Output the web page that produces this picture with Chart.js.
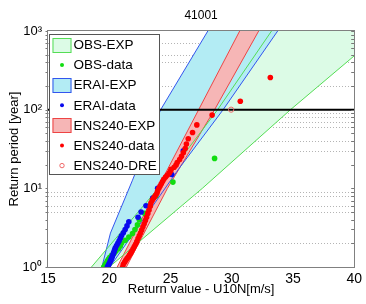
<!DOCTYPE html>
<html><head><meta charset="utf-8">
<script src="https://cdn.jsdelivr.net/npm/chart.js@4/dist/chart.umd.min.js"></script>
<style>html,body{margin:0;padding:0;background:#fff}#wrap{width:366px;height:304px}</style>
</head><body><div id="wrap"><canvas id="c" width="366" height="304"></canvas></div>
<script>
// ---------- data ----------
const chartTitle = '41001';
const xTitle = 'Return value - U10N[m/s]';
const yTitle = 'Return period [year]';
const xTicks = [15, 20, 25, 30, 35, 40];
const yMajorTicks = [1, 10, 100, 1000];
const yTickLabels = ['10\u2070', '10\u00B9', '10\u00B2', '10\u00B3'];
const yMinorTicks = [2,3,4,5,6,7,8,9,20,30,40,50,60,70,80,90,200,300,400,500,600,700,800,900];
const yGridLines = [2,5,6,8,9,30,40,60,70,80,90,200,400,500,700];
const returnLevelLine = [[15, 100], [40, 100]];
const legendLabels = ['OBS-EXP','OBS-data','ERAI-EXP','ERAI-data','ENS240-EXP','ENS240-data','ENS240-DRE'];

// confidence bands [x, return period]
const obsExpLower  = [[18.55,1],[24.0,10],[28.85,100],[33.25,1000]];
const obsExpUpper  = [[20.0,1],[27.6,10],[34.8,100],[42.4,1000]];
const eraiExpLower = [[19.4,1],[20.1,2.7],[21.9,12.7],[24.2,100],[28.05,1000]];
const eraiExpUpper = [[20.05,1],[25.7,17.9],[29.3,100],[33.75,1000]];
const ensExpLower  = [[20.65,1],[23.95,10],[27.3,100],[30.65,1000]];
const ensExpUpper  = [[21.4,1],[24.75,10],[28.6,100],[32.2,1000]];

// empirical points [x, return period]
const obsData = [[28.6,24],[25.2,12],[23.8,8],[23.3,6],[22.9,4.8],[22.45,4],[22.3,3.43],[22.1,3],
  [21.9,2.67],[21.6,2.4],[21.3,2.18],[21.0,2],[20.9,1.85],[20.75,1.71],[20.55,1.6],[20.4,1.5],
  [20.2,1.41],[20.05,1.33],[19.95,1.26],[19.85,1.2],[19.8,1.14],[19.7,1.09],[19.65,1.04],[19.55,1.0]];
const eraiData = [[26.05,30],[25.1,15],[23.95,10],[23.55,7.5],[23.0,6],[22.6,5],[22.35,4.29],[21.6,3.75],
  [21.45,3.33],[21.3,3],[21.15,2.73],[21.0,2.5],[20.9,2.31],[20.8,2.14],[20.7,2],[20.6,1.875],
  [20.5,1.76],[20.45,1.67],[20.4,1.58],[20.35,1.5],[20.3,1.43],[20.25,1.36],[20.2,1.3],[20.15,1.25],
  [20.1,1.2],[20.05,1.15],[20.0,1.11],[19.95,1.07],[19.9,1.03],[19.85,1.0]];
const ensData = [[21.1,1.0],[21.15,1.08],[21.25,1.15],[21.35,1.22],[21.45,1.28],[21.55,1.34],[21.65,1.42],
  [21.75,1.5],[21.85,1.6],[21.95,1.7],[22.05,1.82],[22.15,1.95],[22.25,2.1],[22.35,2.3],[22.45,2.5],
  [22.55,2.7],[22.65,2.95],[22.75,3.25],[22.85,3.55],[22.95,3.9],[23.05,4.3],[23.15,4.8],[23.25,5.3],
  [23.35,5.9],[23.4,6.5],[23.5,7.0],[23.6,7.4],[23.7,7.8],[23.8,8.2],[23.9,8.7],[23.95,9.3],[24.05,10.0],
  [24.15,10.7],[24.25,11.4],[24.35,12.2],[24.45,13.0],[24.6,13.9],[24.75,14.8],[24.9,15.6],[25.0,16.5],
  [25.05,17.4],[25.3,18.5],[25.45,19.7],[25.55,21.3],[25.75,23.3],[25.9,25.6],[26.05,28.4],[26.2,32.0],
  [26.3,36.6],[26.45,42.7],[26.8,51.2],[27.15,64.0],[28.4,85.3],[30.7,128],[33.15,256]];
const ensDre = [[29.95,100]];

// ---------- styles ----------
const FONT = "'Liberation Sans', Arial, Helvetica, sans-serif";
const C = {
  obsFill:'#dcfbe6', obsLine:'#55dd55', obsDot:'#11dd11',
  eraiFill:'#b3ecf4', eraiLine:'#3355ee', eraiDot:'#0a0aee',
  ensFill:'#f6b6b6', ensLine:'#ee4444', ensDot:'#ff0000', dre:'#f06a6a',
  grid:'#b4b4b4', frame:'#808080'
};
Chart.defaults.font.family = FONT;
Chart.defaults.color = '#000';

const toXY = arr => arr.map(p => ({x: p[0], y: p[1]}));
const polygon = (lo, up) => toXY(lo.concat(up.slice().reverse()));

function band(label, lo, up, fillColor, lineColor, order) {
  return [
    {label, data: polygon(lo, up), fill: 'shape', backgroundColor: fillColor, borderColor: lineColor,
     borderWidth: 0, pointRadius: 0, order, clip: 0, kind: 'patch'},
    {label: label + ' lower', data: toXY(lo), fill: false, borderColor: lineColor, borderWidth: 1,
     pointRadius: 0, order: 20, clip: 0},
    {label: label + ' upper', data: toXY(up), fill: false, borderColor: lineColor, borderWidth: 1,
     pointRadius: 0, order: 20, clip: 0}
  ];
}
function dots(label, arr, color, order) {
  return {label, data: toXY(arr), showLine: false, pointRadius: 2.8, pointBackgroundColor: color,
    pointBorderWidth: 0, borderColor: color, backgroundColor: color, order, clip: 0, kind: 'dot'};
}

const datasets = [
  ...band('OBS-EXP', obsExpLower, obsExpUpper, C.obsFill, C.obsLine, 30),
  ...band('ERAI-EXP', eraiExpLower, eraiExpUpper, C.eraiFill, C.eraiLine, 29),
  ...band('ENS240-EXP', ensExpLower, ensExpUpper, C.ensFill, C.ensLine, 28),
  {label: '100-year', data: toXY(returnLevelLine), borderColor: '#000', borderWidth: 2, pointRadius: 0,
   fill: false, order: 15, clip: 0},
  dots('OBS-data', obsData, C.obsDot, 12),
  dots('ERAI-data', eraiData, C.eraiDot, 11),
  dots('ENS240-data', ensData, C.ensDot, 10),
  {label: 'ENS240-DRE', data: toXY(ensDre), showLine: false, pointRadius: 2.6, pointBorderWidth: 1,
   pointBorderColor: C.dre, pointBackgroundColor: 'rgba(0,0,0,0)', borderColor: C.dre,
   backgroundColor: 'rgba(0,0,0,0)', order: 5, clip: 0, kind: 'ring'}
];

const decor = {
  id: 'decor',
  beforeDatasetsDraw(chart) {
    const {ctx, chartArea: a, scales: {y}} = chart;
    ctx.save();
    ctx.strokeStyle = C.grid; ctx.lineWidth = 1; ctx.setLineDash([1, 2]);
    yGridLines.forEach(v => {
      const py = Math.round(y.getPixelForValue(v)) + 0.5;
      ctx.beginPath(); ctx.moveTo(a.left, py); ctx.lineTo(a.right, py); ctx.stroke();
    });
    ctx.restore();
  },
  afterDatasetsDraw(chart) {
    const {ctx, chartArea: a, scales: {y}} = chart;
    ctx.save();
    // ticks
    ctx.strokeStyle = '#777'; ctx.lineWidth = 1;
    yMinorTicks.concat(yMajorTicks).forEach(v => {
      const py = Math.round(y.getPixelForValue(v)) + 0.5;
      ctx.beginPath(); ctx.moveTo(a.left - 2.5, py); ctx.lineTo(a.left, py); ctx.stroke();
      ctx.beginPath(); ctx.moveTo(a.right - 3, py); ctx.lineTo(a.right, py); ctx.stroke();
    });
    // frame
    ctx.strokeStyle = C.frame; ctx.lineWidth = 1;
    ctx.strokeRect(Math.round(a.left) - 0.5, Math.round(a.top) - 0.5,
                   Math.round(a.right - a.left) + 1, Math.round(a.bottom - a.top) + 1);
    // legend
    const bx = Math.round(a.left) + 1.5, by = Math.round(a.top) + 3.5, bw = 110, bh = 140;
    ctx.fillStyle = '#fff'; ctx.fillRect(bx, by, bw, bh);
    ctx.strokeStyle = '#555'; ctx.strokeRect(bx, by, bw, bh);
    ctx.font = '13.5px ' + FONT; ctx.textBaseline = 'middle'; ctx.textAlign = 'left';
    legendLabels.forEach((lab, i) => {
      const ds = chart.data.datasets.find(d => d.label === lab);
      const cy = by + 10.5 + i * 20.1;
      const sx = bx + 3;
      if (ds.kind === 'patch') {
        ctx.fillStyle = ds.backgroundColor;
        ctx.fillRect(sx, Math.round(cy - 7.5), 19, 15);
        ctx.strokeStyle = ds.borderColor;
        ctx.strokeRect(sx + 0.5, Math.round(cy - 7.5) + 0.5, 18, 14);
      } else if (ds.kind === 'dot') {
        ctx.fillStyle = ds.pointBackgroundColor;
        ctx.beginPath(); ctx.arc(sx + 9.5, cy, 2, 0, Math.PI * 2); ctx.fill();
      } else {
        ctx.strokeStyle = ds.pointBorderColor;
        ctx.beginPath(); ctx.arc(sx + 9.5, cy, 2.2, 0, Math.PI * 2); ctx.stroke();
      }
      ctx.fillStyle = '#000';
      ctx.fillText(lab, bx + 24, cy + 0.5);
    });
    ctx.restore();
  }
};

new Chart(document.getElementById('c'), {
  type: 'line',
  data: {datasets},
  plugins: [decor],
  options: {
    responsive: false, animation: false, devicePixelRatio: 1,
    layout: {padding: {top: 0, right: 11, bottom: 0, left: 0}},
    elements: {line: {tension: 0}},
    plugins: {
      legend: {display: false}, tooltip: {enabled: false},
      filler: {propagate: false},
      title: {display: true, text: chartTitle, fullSize: false, color: '#000',
              font: {size: 12, weight: 'normal'}, padding: {top: 8, bottom: 8.6}}
    },
    scales: {
      x: {
        type: 'linear', min: 15, max: 40,
        afterBuildTicks: s => { s.ticks = xTicks.map(v => ({value: v})); },
        afterFit: s => { s.height = 37; },
        grid: {display: false, drawTicks: false}, border: {display: false},
        ticks: {font: {size: 14}, color: '#000', padding: 4, maxRotation: 0, autoSkip: false},
        title: {display: true, text: xTitle, color: '#000', font: {size: 13}, padding: {top: 0, bottom: 7}}
      },
      y: {
        type: 'logarithmic', min: 1, max: 1000,
        afterBuildTicks: s => { s.ticks = yMajorTicks.map(v => ({value: v, major: true})); },
        afterFit: s => { s.width = 48; },
        grid: {display: false, drawTicks: false}, border: {display: false},
        ticks: {font: {size: 13}, color: '#000', padding: 6, autoSkip: false,
                callback: v => { const i = yMajorTicks.indexOf(v); return i >= 0 ? yTickLabels[i] : ''; }},
        title: {display: true, text: yTitle, color: '#000', font: {size: 13}, padding: {top: 7, bottom: 0}}
      }
    }
  }
});
</script>
</body></html>
